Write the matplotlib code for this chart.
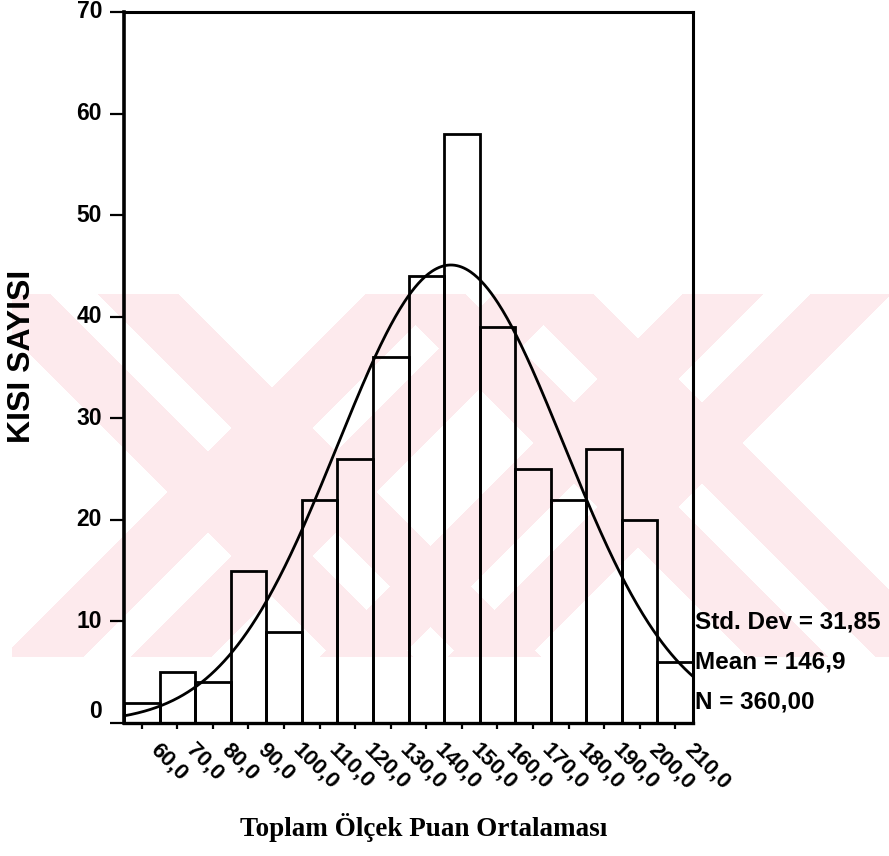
import numpy as np
import matplotlib
matplotlib.use("Agg")
import matplotlib.pyplot as plt
import matplotlib.transforms as mtransforms

# ---------------- data ----------------
bin_centers = [60, 70, 80, 90, 100, 110, 120, 130, 140, 150, 160, 170, 180, 190, 200, 210]
counts = [2, 5, 4, 15, 9, 22, 26, 36, 44, 58, 39, 25, 22, 27, 20, 6]
x_tick_labels = ["60,0", "70,0", "80,0", "90,0", "100,0", "110,0", "120,0", "130,0",
                 "140,0", "150,0", "160,0", "170,0", "180,0", "190,0", "200,0", "210,0"]
y_ticks = [0, 10, 20, 30, 40, 50, 60, 70]
bin_width = 10
std_dev = 31.85
mean = 146.9
n_total = 360
stats_lines = ["Std. Dev = 31,85", "Mean = 146,9", "N = 360,00"]
y_label = "KISI SAYISI"
x_label = "Toplam Ölçek Puan Ortalaması"

# ---------------- figure ----------------
W, H = 889, 856
fig = plt.figure(figsize=(W / 100, H / 100), dpi=100)
fig.patch.set_facecolor("white")

def fx(px):
    return px / W

def fy(py):
    return 1 - py / H

# background watermark (light pink crossed stripes)
yy, xx = np.mgrid[0:H, 0:W] + 0.5
band = (xx >= 12) & (yy >= 294) & (yy <= 657)
pink = np.zeros((H, W), dtype=bool)
for cx, cy in [(272, 492), (638, 443)]:
    dx = xx - cx
    dy = yy - cy
    for u, s in [(dx - dy, dx + dy), (dx + dy, dx - dy)]:
        arm = np.abs(u) <= 104
        stripe = (np.abs(u) <= 23) & (np.abs(s) > 104)
        pink |= arm & ~stripe
pink &= band
img = np.zeros((H, W, 4))
img[pink] = [253 / 255, 234 / 255, 237 / 255, 1.0]
fig.figimage(img, xo=0, yo=0, origin="upper", zorder=-5)

ax = fig.add_axes([fx(124), fy(723), fx(693 - 124), (723 - 12) / H])
ax.patch.set_alpha(0)

ax.bar(bin_centers, counts, width=bin_width, fill=False, edgecolor="black",
       linewidth=2.0, zorder=2)

xs = np.linspace(55, 215, 500)
ys = n_total * bin_width / (std_dev * np.sqrt(2 * np.pi)) * np.exp(-0.5 * ((xs - mean) / std_dev) ** 2)
ax.plot(xs, ys, color="black", linewidth=2.0, zorder=3)

ax.set_xlim(55, 215)
ax.set_ylim(0, 70)
ax.set_xticks(bin_centers)
ax.set_xticklabels([])
ax.set_yticks(y_ticks)
ax.set_yticklabels([])
ax.tick_params(axis="x", direction="out", length=4, width=1.6, color="black")
ax.tick_params(axis="y", direction="out", length=10, width=1.6, color="black")
for side, lw in [("left", 2.6), ("bottom", 2.4), ("top", 2.2), ("right", 2.2)]:
    ax.spines[side].set_linewidth(lw)
    ax.spines[side].set_color("black")

sans = ["Liberation Sans", "DejaVu Sans"]
serif = ["Liberation Serif", "DejaVu Serif"]

# y tick labels
for v in y_ticks:
    off = 12 if v == 0 else 0
    tr = mtransforms.offset_copy(ax.get_yaxis_transform(), fig=fig, x=-22, y=off, units="dots")
    ax.text(0, v, str(v), transform=tr, ha="right", va="center",
            fontsize=16.5, fontweight="bold", family=sans)

# x tick labels (rotated)
for c, lab in zip(bin_centers, x_tick_labels):
    tr = mtransforms.offset_copy(ax.get_xaxis_transform(), fig=fig, x=12, y=-24, units="dots")
    ax.text(c, 0, lab, transform=tr, ha="left", va="center", rotation=-45,
            rotation_mode="anchor", fontsize=16, fontweight="bold", family=sans)

# axis labels
fig.text(fx(22), fy(356), y_label, rotation=90, ha="center", va="center",
         fontsize=23, fontweight="bold", family=sans)
fig.text(fx(424), fy(836), x_label, ha="center", va="baseline",
         fontsize=19.5, fontweight="bold", family=serif)

# stats
for i, line in enumerate(stats_lines):
    fig.text(fx(695), fy(622 + 40 * i), line, ha="left", va="center",
             fontsize=17.5, fontweight="bold", family=sans)

fig.savefig("out.png", dpi=100)
